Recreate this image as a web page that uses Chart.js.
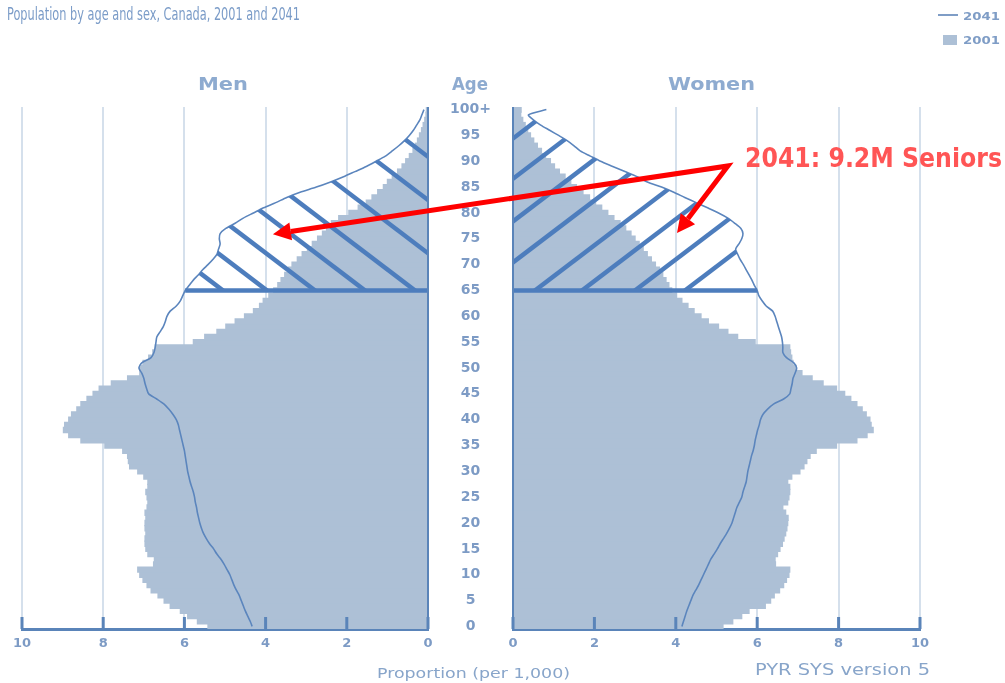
<!DOCTYPE html>
<html>
<head>
<meta charset="utf-8">
<script src="https://cdn.jsdelivr.net/npm/chart.js@4.4.1/dist/chart.umd.min.js"></script>
<style>
  html, body { margin: 0; padding: 0; background: #fff; }
  #wrap { position: relative; width: 1005px; height: 683px; overflow: hidden; font-family: 'DejaVu Sans', sans-serif; }
  canvas { position: absolute; top: 0; }
  #men { left: 0; }
  #women { left: 430px; }
  .t { position: absolute; white-space: nowrap; line-height: 1; transform-origin: 0 0; }
  .key { position: absolute; }
  svg { position: absolute; left: 0; top: 0; }
</style>
</head>
<body>
<div id="wrap">
  <canvas id="men" width="440" height="683"></canvas>
  <canvas id="women" width="575" height="683"></canvas>

  <div class="t" data-w="293" style="left:7px;top:5px;font-size:18px;color:#7b9cc8;font-family:'DejaVu Sans Condensed','DejaVu Sans'">Population by age and sex, Canada, 2001 and 2041</div>

  <div class="key" style="left:938px;top:14px;width:20px;height:2px;background:#7f9dc6"></div>
  <div class="t" data-w="37" style="left:963px;top:11px;font-size:11px;font-weight:bold;color:#7f9dc6">2041</div>
  <div class="key" style="left:943px;top:35px;width:14px;height:10px;background:#adc0d6"></div>
  <div class="t" data-w="37" style="left:963px;top:35px;font-size:11px;font-weight:bold;color:#7f9dc6">2001</div>

  <div class="t" data-w="50" style="left:198px;top:75px;font-size:18px;font-weight:bold;color:#8eabd0">Men</div>
  <div class="t" data-w="36" style="left:452px;top:75px;font-size:18px;font-weight:bold;color:#8eabd0">Age</div>
  <div class="t" data-w="87" style="left:668px;top:75px;font-size:18px;font-weight:bold;color:#8eabd0">Women</div>

  <div class="t" data-w="193" style="left:377px;top:666px;font-size:14px;color:#88a5ca">Proportion (per 1,000)</div>
  <div class="t" data-w="175" style="left:755px;top:663px;font-size:15px;color:#88a5ca">PYR SYS version 5</div>

  <svg id="marks" width="1005" height="683"></svg>
  <div class="t" data-w="257" style="left:745px;top:144px;font-size:27px;font-weight:bold;color:#ff5555;font-family:'DejaVu Sans Condensed','DejaVu Sans'">2041: 9.2M Seniors</div>
</div>

<script>
// age groups, single years 0..99 and an open 100+ group
var ages = [];
for (var a = 0; a <= 100; a++) {
    ages.push(a === 100 ? '100+' : String(a));
}

// proportion per 1,000
var men2001 = [
    5.42, 5.68, 5.92, 6.10, 6.35, 6.50, 6.65, 6.82, 6.92, 7.02,
    7.10, 7.15, 6.76, 6.74, 6.90, 6.95, 6.97, 6.97, 6.95, 6.97,
    6.97, 6.95, 6.97, 6.92, 6.90, 6.92, 6.95, 6.90, 6.90, 7.00,
    7.15, 7.35, 7.38, 7.40, 7.52, 7.96, 8.55, 8.85, 8.98, 8.95,
    8.85, 8.78, 8.65, 8.55, 8.40, 8.25, 8.10, 7.80, 7.40, 7.10,
    7.10, 7.02, 6.88, 6.78, 6.72, 5.78, 5.50, 5.20, 4.98, 4.75,
    4.52, 4.30, 4.15, 4.06, 3.92, 3.80, 3.70, 3.62, 3.53, 3.44,
    3.35, 3.22, 3.10, 2.97, 2.85, 2.72, 2.60, 2.50, 2.38, 2.20,
    1.95, 1.72, 1.52, 1.38, 1.24, 1.10, 1.00, 0.88, 0.75, 0.64,
    0.55, 0.46, 0.37, 0.31, 0.26, 0.21, 0.16, 0.12, 0.08, 0.05, 0.04
];
var women2001 = [
    5.16, 5.40, 5.62, 5.80, 6.20, 6.33, 6.42, 6.55, 6.65, 6.72,
    6.78, 6.80, 6.45, 6.44, 6.50, 6.56, 6.62, 6.66, 6.70, 6.73,
    6.75, 6.76, 6.70, 6.63, 6.75, 6.78, 6.80, 6.80, 6.75, 6.85,
    7.05, 7.15, 7.22, 7.30, 7.45, 7.95, 8.45, 8.70, 8.85, 8.80,
    8.77, 8.68, 8.58, 8.45, 8.30, 8.15, 7.95, 7.62, 7.35, 7.10,
    6.95, 6.88, 6.85, 6.82, 6.80, 5.95, 5.52, 5.28, 5.05, 4.80,
    4.62, 4.45, 4.30, 4.15, 4.02, 3.90, 3.83, 3.76, 3.68, 3.60,
    3.50, 3.40, 3.30, 3.20, 3.10, 3.00, 2.90, 2.77, 2.63, 2.48,
    2.33, 2.18, 2.03, 1.88, 1.72, 1.56, 1.42, 1.28, 1.14, 1.02,
    0.92, 0.80, 0.70, 0.60, 0.51, 0.43, 0.36, 0.30, 0.24, 0.19, 0.20
];
var men2041 = [
    4.33, 4.38, 4.44, 4.50, 4.55, 4.60, 4.65, 4.72, 4.78, 4.83,
    4.88, 4.95, 5.02, 5.10, 5.20, 5.28, 5.38, 5.46, 5.53, 5.58,
    5.62, 5.65, 5.68, 5.70, 5.73, 5.75, 5.78, 5.82, 5.86, 5.89,
    5.92, 5.94, 5.96, 5.98, 6.00, 6.03, 6.06, 6.09, 6.12, 6.15,
    6.20, 6.28, 6.38, 6.50, 6.68, 6.88, 6.93, 6.97, 7.00, 7.05,
    7.12, 7.05, 6.82, 6.75, 6.72, 6.70, 6.68, 6.60, 6.52, 6.47,
    6.43, 6.35, 6.20, 6.10, 6.04, 5.98, 5.88, 5.78, 5.66, 5.55,
    5.42, 5.30, 5.20, 5.16, 5.12, 5.14, 5.12, 4.98, 4.75, 4.55,
    4.30, 4.05, 3.75, 3.48, 3.15, 2.75, 2.40, 2.08, 1.80, 1.52,
    1.28, 1.05, 0.88, 0.72, 0.58, 0.46, 0.36, 0.28, 0.20, 0.15, 0.10
];
var women2041 = [
    4.15, 4.19, 4.23, 4.27, 4.32, 4.37, 4.42, 4.49, 4.56, 4.62,
    4.68, 4.74, 4.80, 4.86, 4.94, 5.02, 5.09, 5.17, 5.25, 5.32,
    5.38, 5.42, 5.46, 5.50, 5.56, 5.62, 5.65, 5.69, 5.73, 5.75,
    5.77, 5.80, 5.83, 5.86, 5.90, 5.93, 5.95, 5.98, 6.01, 6.05,
    6.08, 6.14, 6.25, 6.40, 6.65, 6.80, 6.83, 6.86, 6.88, 6.93,
    6.97, 6.90, 6.72, 6.63, 6.63, 6.62, 6.60, 6.56, 6.52, 6.48,
    6.44, 6.38, 6.22, 6.12, 6.04, 6.00, 5.93, 5.87, 5.80, 5.73,
    5.66, 5.58, 5.52, 5.47, 5.55, 5.62, 5.65, 5.60, 5.45, 5.28,
    5.05, 4.78, 4.50, 4.22, 3.95, 3.65, 3.30, 3.05, 2.75, 2.45,
    2.15, 1.90, 1.65, 1.50, 1.33, 1.12, 0.90, 0.68, 0.50, 0.38, 0.82
];

var seniorAge = '65';

// callout: where the arrows start and where they point (value, age)
var calloutFrom = { x: 5.28, age: 89.1 };
var calloutMen = { x: 3.82, age: 75.9 };
var calloutWomen = { x: 4.03, age: 76.1 };

var BAR = '#adc0d6';
var LINE = '#5b85bd';
var HATCH = '#4d7dbd';
var AXIS = '#5a84b9';
var GRID = '#d5e0ec';
var TICK = '#7d9bc5';

Chart.defaults.font.family = "'DejaVu Sans', sans-serif";

// diagonal hatch between the axis and the 2041 line, for the seniors
var hatch = {
    id: 'hatch',
    afterDatasetsDraw: function(chart, args, opts) {
        var ctx = chart.ctx;
        var x = chart.scales.x;
        var y = chart.scales.y;
        var x0 = x.getPixelForValue(0);
        var out = x.getPixelForValue(1) > x0 ? 1 : -1;
        var first = ages.indexOf(seniorAge);
        var last = ages.length - 1;
        var yS = y.getPixelForValue(first);

        ctx.save();
        ctx.beginPath();
        ctx.moveTo(x0, yS);
        for (var i = first; i <= last; i++) {
            ctx.lineTo(x.getPixelForValue(opts.values[i]), y.getPixelForValue(i));
        }
        ctx.lineTo(x0, y.getPixelForValue(last));
        ctx.closePath();
        ctx.clip();
        ctx.strokeStyle = HATCH;
        ctx.lineWidth = 4.5;
        opts.offsets.forEach(function(off) {
            var px = x0 + out * off;
            ctx.beginPath();
            ctx.moveTo(px - 500, yS + out * 0.76 * 500);
            ctx.lineTo(px + 500, yS - out * 0.76 * 500);
            ctx.stroke();
        });
        ctx.restore();

        ctx.save();
        ctx.strokeStyle = HATCH;
        ctx.lineWidth = 4.5;
        ctx.beginPath();
        ctx.moveTo(x0, yS);
        ctx.lineTo(x.getPixelForValue(opts.values[first]), yS);
        ctx.stroke();
        ctx.restore();
    }
};

// zero line and the short ticks standing on the axis
var axisMarks = {
    id: 'axisMarks',
    afterDatasetsDraw: function(chart) {
        var ctx = chart.ctx;
        var area = chart.chartArea;
        var x = chart.scales.x;
        var x0 = x.getPixelForValue(0);
        ctx.save();
        ctx.strokeStyle = AXIS;
        ctx.lineWidth = 2;
        ctx.beginPath();
        ctx.moveTo(x0, area.top);
        ctx.lineTo(x0, area.bottom);
        ctx.stroke();
        ctx.lineWidth = 3;
        x.ticks.forEach(function(t) {
            var px = x.getPixelForValue(t.value);
            ctx.beginPath();
            ctx.moveTo(px, area.bottom - 12);
            ctx.lineTo(px, area.bottom);
            ctx.stroke();
        });
        ctx.restore();
    }
};

function pyramid(id, bars, line, offsets, isLeft) {
    return new Chart(document.getElementById(id), {
        type: 'bar',
        data: {
            labels: ages,
            datasets: [{
                type: 'line',
                label: '2041',
                data: line,
                indexAxis: 'y',
                borderColor: LINE,
                borderWidth: 1.6,
                pointRadius: 0,
                tension: 0.25,
                fill: false,
                order: 0
            }, {
                label: '2001',
                data: bars,
                backgroundColor: BAR,
                borderWidth: 0,
                barPercentage: 1,
                categoryPercentage: 1,
                inflateAmount: 0.6,
                order: 1
            }]
        },
        options: {
            indexAxis: 'y',
            responsive: false,
            animation: false,
            layout: {
                padding: isLeft ? { left: 22, right: 12, top: 107, bottom: 0 }
                                : { left: 0, right: 85, top: 107, bottom: 0 }
            },
            plugins: {
                legend: { display: false },
                tooltip: { enabled: false },
                hatch: { values: line, offsets: offsets }
            },
            scales: {
                x: {
                    type: 'linear',
                    min: 0,
                    max: 10,
                    reverse: isLeft,
                    position: 'bottom',
                    ticks: { stepSize: 2, padding: 7, color: TICK, font: { size: 13, weight: 'bold' } },
                    grid: { color: GRID, lineWidth: 2, drawTicks: false },
                    border: { display: true, color: AXIS, width: 3 },
                    afterFit: function(s) { s.height = 54; }
                },
                y: {
                    type: 'category',
                    reverse: true,
                    display: !isLeft,
                    position: 'left',
                    grid: { display: false, drawTicks: false },
                    border: { display: false },
                    ticks: {
                        autoSkip: false,
                        padding: 22,
                        crossAlign: 'center',
                        color: TICK,
                        font: { size: 14, weight: 'bold' },
                        callback: function(v, i) { return i % 5 === 0 ? ages[i] : ''; }
                    },
                    afterFit: function(s) { s.width = isLeft ? 0 : 83; }
                }
            }
        },
        plugins: [hatch, axisMarks]
    });
}

var menChart = pyramid('men', men2001, men2041, [-176, -119, -49, 13, 63, 113, 161, 205], true);
var womenChart = pyramid('women', women2001, women2041, [-200, -147, -91, -37, 22, 69, 122, 172], false);

// red callout arrows
function pagePoint(chart, p) {
    var left = chart.canvas.offsetLeft;
    return [left + chart.scales.x.getPixelForValue(p.x), chart.scales.y.getPixelForValue(p.age)];
}

function headBase(from, to, len) {
    var dx = to[0] - from[0], dy = to[1] - from[1];
    var d = Math.sqrt(dx * dx + dy * dy);
    return { ux: dx / d, uy: dy / d, bx: to[0] - dx / d * len, by: to[1] - dy / d * len };
}

function drawCallout() {
    var svg = document.getElementById('marks');
    var ns = 'http://www.w3.org/2000/svg';
    var apex = pagePoint(womenChart, calloutFrom);
    var tips = [pagePoint(menChart, calloutMen), pagePoint(womenChart, calloutWomen)];
    var bases = tips.map(function(t) { return headBase(apex, t, 18); });

    var path = document.createElementNS(ns, 'path');
    path.setAttribute('d', 'M' + bases[0].bx + ',' + bases[0].by + ' L' + apex[0] + ',' + apex[1] +
        ' L' + bases[1].bx + ',' + bases[1].by);
    path.setAttribute('fill', 'none');
    path.setAttribute('stroke', '#ff0000');
    path.setAttribute('stroke-width', '5');
    path.setAttribute('stroke-linejoin', 'miter');
    svg.appendChild(path);

    tips.forEach(function(t, i) {
        var b = bases[i];
        var hw = 9;
        var poly = document.createElementNS(ns, 'polygon');
        poly.setAttribute('points', t[0] + ',' + t[1] + ' ' +
            (b.bx - b.uy * hw) + ',' + (b.by + b.ux * hw) + ' ' +
            (b.bx + b.uy * hw) + ',' + (b.by - b.ux * hw));
        poly.setAttribute('fill', '#ff0000');
        svg.appendChild(poly);
    });
}
drawCallout();

// stretch the html labels to the widths of the original lettering
document.querySelectorAll('.t').forEach(function(el) {
    var w = +el.dataset.w;
    var r = el.getBoundingClientRect().width;
    if (r > 0) {
        el.style.transform = 'scaleX(' + (w / r) + ')';
    }
});
</script>
</body>
</html>
